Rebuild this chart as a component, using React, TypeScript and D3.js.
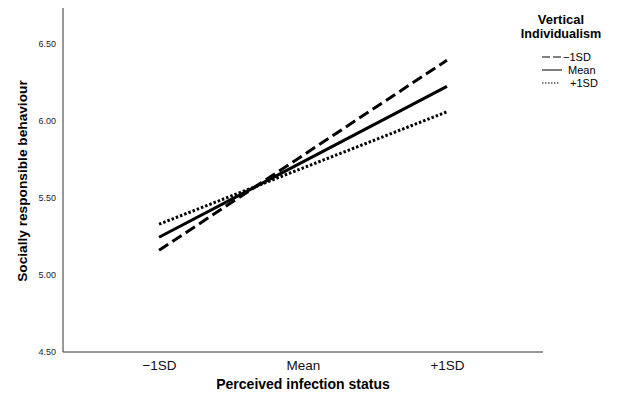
import React, { useEffect, useRef } from 'react';
import * as d3 from 'd3';

// data
const categories = ['\u22121SD', 'Mean', '+1SD'];
const seriesNames = ['\u22121SD', 'Mean', '+1SD'];
// simple slopes: value at low (-1SD) and high (+1SD) infection status
const lowValues = [5.16, 5.245, 5.33];
const highValues = [6.395, 6.225, 6.06];
const yTicks = [4.5, 5.0, 5.5, 6.0, 6.5];
const dashes = ['11,5', null, '2.5,2'];

export default function App() {
  const ref = useRef<SVGSVGElement | null>(null);

  useEffect(() => {
    draw();
    // eslint-disable-next-line react-hooks/exhaustive-deps
  }, []);

  function draw() {
    const svg = d3.select(ref.current);
    svg.selectAll('*').remove();
    const font = '"Liberation Sans", Arial, sans-serif';
    const margin = { top: 8, right: 79, bottom: 47, left: 63 };
    const width = 622;
    const height = 399;

    const x = d3
      .scalePoint()
      .domain(categories)
      .range([margin.left, width - margin.right])
      .padding(0.667);
    const y = d3
      .scaleLinear()
      .domain([4.5, 6.734])
      .range([height - margin.bottom, margin.top]);

    const g = svg.append('g').attr('font-family', font);

    // y axis
    const yAxis = g
      .append('g')
      .attr('transform', `translate(${margin.left},0)`)
      .call(d3.axisLeft(y).tickValues(yTicks).tickSize(0).tickPadding(7).tickFormat(d3.format('.2f')));
    yAxis.select('.domain').attr('stroke', '#333').attr('d', `M0,${y.range()[1]}V${y.range()[0]}`);
    yAxis.selectAll('text').attr('font-size', 9).attr('font-family', font).attr('fill', '#222');

    // x axis
    const xAxis = g
      .append('g')
      .attr('transform', `translate(0,${y(4.5)})`)
      .call(d3.axisBottom(x).tickSize(0).tickPadding(8));
    xAxis.select('.domain').attr('stroke', '#333').attr('d', `M${margin.left},0H${width - margin.right}`);
    xAxis.selectAll('text').attr('font-size', 13.5).attr('font-family', font).attr('fill', '#111');

    // axis titles
    g.append('text')
      .attr('x', x('Mean'))
      .attr('y', 389)
      .attr('text-anchor', 'middle')
      .attr('font-size', 14)
      .attr('font-weight', 'bold')
      .text('Perceived infection status');
    g.append('text')
      .attr('transform', `translate(27,${y(5.61)}) rotate(-90)`)
      .attr('text-anchor', 'middle')
      .attr('font-size', 13.7)
      .attr('font-weight', 'bold')
      .text('Socially responsible behaviour');

    // lines
    const line = d3
      .line<[string, number]>()
      .x((d) => x(d[0]) as number)
      .y((d) => y(d[1]));
    seriesNames.forEach((name, i) => {
      g.append('path')
        .datum([
          [categories[0], lowValues[i]],
          [categories[2], highValues[i]],
        ] as [string, number][])
        .attr('d', line)
        .attr('fill', 'none')
        .attr('stroke', '#000')
        .attr('stroke-width', 3)
        .attr('stroke-dasharray', dashes[i]);
    });

    // legend
    const lg = g.append('g');
    lg.append('text')
      .attr('x', 561)
      .attr('y', 24)
      .attr('text-anchor', 'middle')
      .attr('font-size', 13)
      .attr('font-weight', 'bold')
      .text('Vertical');
    lg.append('text')
      .attr('x', 561)
      .attr('y', 38)
      .attr('text-anchor', 'middle')
      .attr('font-size', 12.6)
      .attr('font-weight', 'bold')
      .text('Individualism');
    seriesNames.forEach((name, i) => {
      const ly = 57 + i * 13;
      lg.append('line')
        .attr('x1', 542)
        .attr('x2', i === 2 ? 559 : 562)
        .attr('y1', ly)
        .attr('y2', ly)
        .attr('stroke', '#000')
        .attr('stroke-width', 1)
        .attr('stroke-dasharray', i === 0 ? '8,3' : i === 2 ? '1.5,1.5' : null);
      lg.append('text')
        .attr('x', i === 0 ? 563 : i === 1 ? 568 : 570)
        .attr('y', ly + 4)
        .attr('font-size', 11)
        .text(name);
    });
  }

  return (
    <svg ref={ref} width={622} height={399} style={{ display: 'block', position: 'absolute', left: 0, top: 0, background: '#fff' }} />
  );
}
